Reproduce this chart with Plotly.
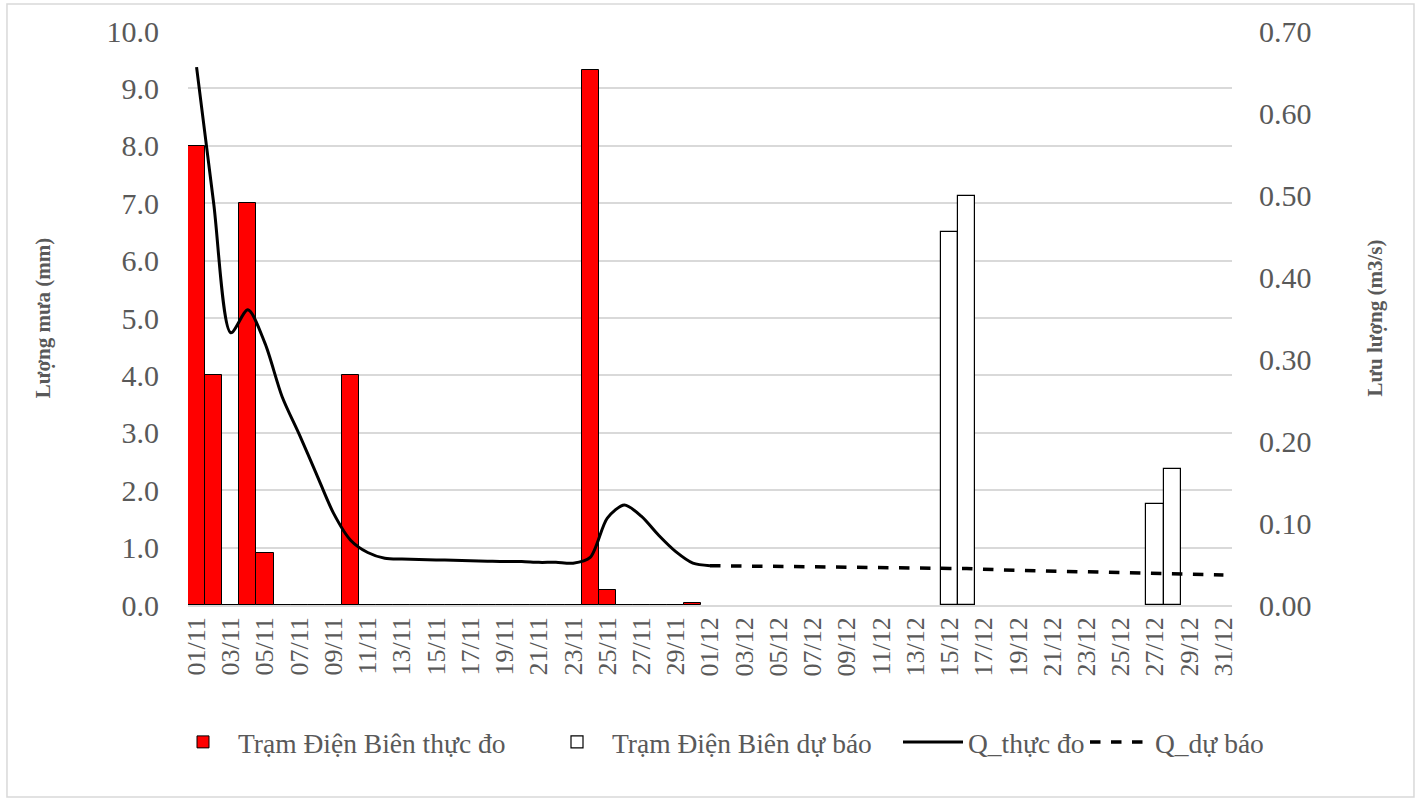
import plotly.graph_objects as go

# ---------------- data ----------------
dates = [f"{d:02d}/11" for d in range(1, 31)] + [f"{d:02d}/12" for d in range(1, 32)]

rain_obs = [8.0, 4.0, 0, 7.0, 0.9, 0, 0, 0, 0, 4.0,
            0, 0, 0, 0, 0, 0, 0, 0, 0, 0,
            0, 0, 0, 9.32, 0.26, 0, 0, 0, 0, 0.03] + [None] * 31

rain_fc = [None] * 44 + [6.5, 7.13] + [None] * 10 + [1.76, 2.37] + [None] * 3

q_obs = [0.656, 0.49, 0.332, 0.36, 0.319, 0.254, 0.208, 0.16, 0.112, 0.079,
         0.064, 0.057, 0.056, 0.0555, 0.055, 0.0545, 0.054, 0.0535, 0.053, 0.053,
         0.052, 0.052, 0.051, 0.058, 0.106, 0.122, 0.108, 0.085, 0.065, 0.051,
         0.048] + [None] * 30

q_fc = [None] * 30 + [0.0480, 0.0477, 0.0474, 0.0471, 0.0468, 0.0465, 0.0462, 0.0458,
                      0.0455, 0.0452, 0.0449, 0.0445, 0.0442, 0.0439, 0.0446, 0.0446,
                      0.0432, 0.0428, 0.0424, 0.0420, 0.0415, 0.0410, 0.0405, 0.0400,
                      0.0395, 0.0390, 0.0383, 0.0380, 0.0375, 0.0370, 0.0365]

tick_labels = dates[::2]

# ---------------- figure ----------------
FONT = "Liberation Serif"
GRAY = "#595959"
L, R, T, B = 188, 189, 31, 200
PW, PH = 1421 - L - R, 805 - T - B

fig = go.Figure()
fig.add_trace(go.Bar(x=dates, y=rain_obs, name="Trạm Điện Biên thực đo", legend="legend",
                     marker=dict(color="#FF0000", line=dict(color="black", width=1))))
fig.add_trace(go.Bar(x=dates, y=rain_fc, name="Trạm Điện Biên dự báo", legend="legend2",
                     marker=dict(color="white", line=dict(color="black", width=1.2))))
fig.add_trace(go.Scatter(x=dates, y=q_obs, name="Q_thực đo", yaxis="y2", mode="lines",
                         legend="legend3",
                         line=dict(color="black", width=3, shape="spline", smoothing=0.8)))
fig.add_trace(go.Scatter(x=dates, y=q_fc, name="Q_dự báo", yaxis="y2", mode="lines",
                         legend="legend4",
                         line=dict(color="black", width=3.5, dash="dash")))


def leg(text_px):
    # legend whose entry text starts near text_px (pixels from page left)
    return dict(orientation="h", x=(text_px - 70 - L) / PW, xanchor="left",
                y=(T + PH - 742) / PH, yanchor="middle", itemwidth=60,
                font=dict(family=FONT, size=27.5, color=GRAY), bgcolor="rgba(0,0,0,0)")


fig.update_layout(
    width=1421, height=805,
    margin=dict(l=L, r=R, t=T, b=B, pad=0),
    paper_bgcolor="white", plot_bgcolor="white",
    font=dict(family=FONT, color=GRAY),
    barmode="overlay", bargap=0,
    showlegend=True,
    legend=leg(238), legend2=leg(612), legend3=leg(968), legend4=leg(1155),
    xaxis=dict(type="category", categoryorder="array", categoryarray=dates,
               tickmode="array", tickvals=tick_labels, ticktext=tick_labels,
               tickangle=-90, tickfont=dict(family=FONT, size=26, color=GRAY),
               showgrid=False, showline=True, linecolor="#D9D9D9", linewidth=1.5,
               ticks="", zeroline=False),
    yaxis=dict(range=[0, 10], dtick=1, tickformat=".1f",
               tickfont=dict(family=FONT, size=30, color=GRAY),
               showgrid=True, gridcolor="#D9D9D9", gridwidth=1.5,
               zeroline=False, showline=False, ticks="", ticklabelstandoff=28,
               title=dict(text="<b>Lượng mưa (mm)</b>", standoff=50,
                          font=dict(family=FONT, size=21, color=GRAY))),
    yaxis2=dict(range=[0, 0.7], dtick=0.1, tickformat=".2f", overlaying="y", side="right",
                tickfont=dict(family=FONT, size=30, color=GRAY),
                showgrid=False, zeroline=False, showline=False, ticks="", ticklabelstandoff=26,
                title=dict(text="<b>Lưu lượng (m3/s)</b>", standoff=56,
                           font=dict(family=FONT, size=21, color=GRAY))),
    shapes=[dict(type="rect", xref="paper", yref="paper",
                 x0=-0.1734, x1=1.1743, y0=-0.3345, y1=1.047,
                 line=dict(color="#D9D9D9", width=1.5), fillcolor="rgba(0,0,0,0)",
                 layer="below")],
)

fig.write_html("out.html", config={"displayModeBar": False},
               post_script="document.body.style.margin='0';")
